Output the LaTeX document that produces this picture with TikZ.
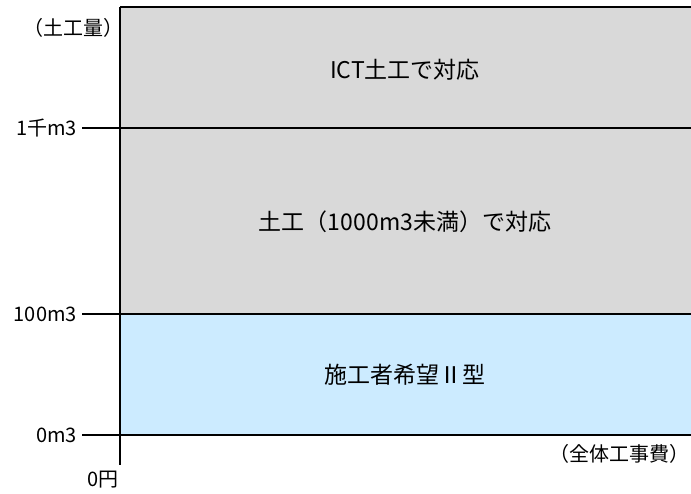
\documentclass[tikz,border=0pt]{standalone}
\usepackage{fontspec}
\setmainfont{Noto Sans CJK JP}
\definecolor{grayfill}{HTML}{D9D9D9}
\definecolor{bluefill}{HTML}{CCEBFF}
\begin{document}
\begin{tikzpicture}[x=1pt,y=-1pt,
  axisline/.style={line width=2.3pt,black},
  ticklbl/.style={anchor=east,font=\fontsize{20}{22}\selectfont,inner sep=0pt},
  regionlbl/.style={font=\fontsize{23}{26}\selectfont,inner sep=0pt}]
\useasboundingbox (0,0) rectangle (691,493);
% regions
\fill[grayfill] (120,7) rectangle (691,314);
\fill[bluefill] (120,314) rectangle (691,435);
% coordinates
\coordinate (top) at (120,7);
\coordinate (topR) at (692,7);
\coordinate (bot) at (120,465);
\coordinate (t1s) at (82,128); \coordinate (t1e) at (691,128);
\coordinate (t2s) at (82,314); \coordinate (t2e) at (691,314);
\coordinate (t3s) at (82,435); \coordinate (t3e) at (691,435);
% lines
\draw[axisline] (top) -- (topR);
\draw[axisline] (t1s) -- (t1e);
\draw[axisline] (t2s) -- (t2e);
\draw[axisline] (t3s) -- (t3e);
\draw[axisline] (top) -- (bot);
% axis labels
\node[ticklbl] (ylab) at (124,28) {（土工量）};
\node[ticklbl] (l1) at (77,128) {1千m3};
\node[ticklbl] (l2) at (77,314) {100m3};
\node[ticklbl] (l3) at (77,435) {0m3};
\node[ticklbl,anchor=center] (l0) at (103,480) {0円};
\node[ticklbl] (xlab) at (690,454) {（全体工事費）};
% region labels
\node[regionlbl] (r1) at (405,70) {ICT土工で対応};
\node[regionlbl] (r2) at (405,222) {土工（1000m3未満）で対応};
\node[regionlbl] (r3) at (405,375) {施工者希望Ⅱ型};
\end{tikzpicture}
\end{document}
